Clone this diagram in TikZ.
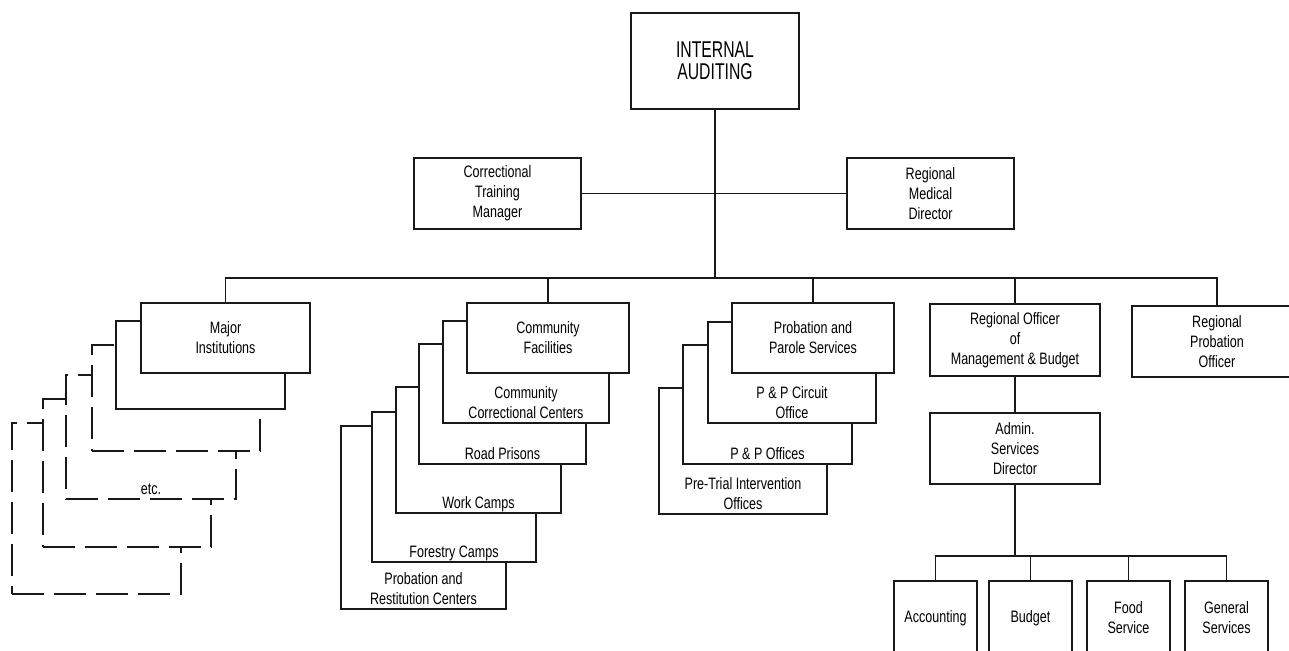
\documentclass[tikz,border=0pt]{standalone}
\usepackage{fontspec}
\setmainfont[FakeStretch=0.76]{Liberation Sans}
\newfontfamily\headfont[FakeStretch=0.69]{Liberation Sans}
\definecolor{ink}{RGB}{25,25,25}
\newcommand{\pxu}{0.02cm}
\tikzstyle{org chart}=[
    x=0.02cm, y=-0.02cm,
    unit box/.style={rectangle, draw=ink, line width=1.25pt, fill=white, inner sep=0pt, align=center, font={\fontsize{9.4}{11.4}\selectfont}},
    head box/.style={font={\headfont\fontsize{13}{12.3}\selectfont}},
    other box/.style={dash pattern=on 0.64cm off 0.2cm},
    strip label/.style={anchor=south, text depth=0pt, inner sep=0pt, yshift=0.1cm, align=center, font={\fontsize{9.4}{11.4}\selectfont}},
    link/.style={draw=ink, line width=0.9pt},
]
\newcommand{\orgbox}[7][]{
    \pgfmathsetmacro{\boxw}{#5-#3}
    \pgfmathsetmacro{\boxh}{#6-#4}
    \node[unit box, minimum width=\boxw*\pxu, minimum height=\boxh*\pxu, #1]
        (#2) at ({(#3+#5)/2},{(#4+#6)/2}) {#7};
}
\newcommand{\backbox}[7][]{
    \orgbox[#1]{#2}{#3}{#4}{#5}{#6}{}
    \node[strip label] (#2-text) at (#2.south) {#7};
}

\begin{document}
\begin{tikzpicture}[org chart]
    \useasboundingbox (0,0) rectangle (1289,650);
    \clip (0,0) rectangle (1289,650);
    % top of the chart
    \orgbox[head box]{audit}{631}{13}{799}{109}{INTERNAL\\AUDITING}
    \orgbox{training}{414}{158}{581}{229}{Correctional\\Training\\Manager}
    \orgbox{medical}{847}{158}{1014}{229}{Regional\\Medical\\Director}
    \coordinate (bus) at (0,278);
    % major institutions, the dashed ones stand for the rest
    \orgbox[other box]{inst4}{12}{423}{181}{594}{}
    \orgbox[other box]{inst3}{43}{399}{211}{547}{}
    \backbox[other box]{inst2}{66}{375}{236}{499}{etc.}
    \orgbox[other box]{inst1}{92}{345}{260}{451}{}
    \orgbox{inst0}{116}{321}{285}{409}{}
    \orgbox{major}{141}{303}{310}{373}{Major\\Institutions}
    % community facilities
    \backbox{restitution}{341}{426}{506}{609}{Probation and\\Restitution Centers}
    \backbox{forestry}{372}{412}{536}{562}{Forestry Camps}
    \backbox{workcamps}{396}{387}{561}{513}{Work Camps}
    \backbox{roadprisons}{419}{344}{586}{464}{Road Prisons}
    \backbox{ccc}{443}{321}{609}{423}{Community\\Correctional Centers}
    \orgbox{community}{467}{303}{629}{373}{Community\\Facilities}
    % probation and parole
    \backbox{pretrial}{659}{388}{827}{514}{Pre-Trial Intervention\\Offices}
    \backbox{ppoffices}{683}{345}{852}{464}{P \& P Offices}
    \backbox{circuit}{708}{322}{876}{423}{P \& P Circuit\\Office}
    \orgbox{parole}{732}{303}{894}{373}{Probation and\\Parole Services}
    % management and budget
    \orgbox{budgetoff}{930}{304}{1100}{376}{Regional Officer\\of\\Management \& Budget}
    \orgbox{probofficer}{1132}{306}{1302}{377}{Regional\\Probation\\Officer}
    \orgbox{admin}{930}{413}{1100}{484}{Admin.\\Services\\Director}
    \foreach \n/\l/\t in {accounting/894/Accounting, budget/989/Budget, food/1087/{Food\\Service}, general/1185/{General\\Services}}
        {\orgbox{\n}{\l}{581}{\l+83}{655}{\t}}
    \coordinate (subbus) at (0,556);
    % lines
    \draw[link] (audit.south) -- (audit |- bus);
    \draw[link] (training.east) -- (medical.west);
    \draw[link] (major.north) -- (major |- bus) -- (probofficer |- bus) -- (probofficer.north);
    \foreach \n in {community, parole, budgetoff}
        \draw[link] (\n.north) -- (\n |- bus);
    \draw[link] (budgetoff.south) -- (admin.north);
    \draw[link] (admin.south) -- (admin |- subbus);
    \draw[link] (accounting.north) -- (accounting |- subbus) -- (general |- subbus) -- (general.north);
    \foreach \n in {budget, food}
        \draw[link] (\n.north) -- (\n |- subbus);
\end{tikzpicture}
\end{document}
